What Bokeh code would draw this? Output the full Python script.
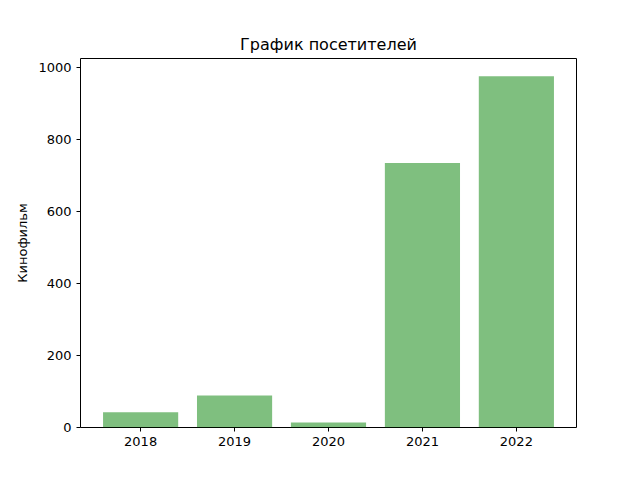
from bokeh.plotting import figure
from bokeh.models import ColumnDataSource, Range1d, FixedTicker
from bokeh.embed import file_html
from bokeh.resources import INLINE

years = ["2018", "2019", "2020", "2021", "2022"]
visitors = [42, 89, 14, 734, 975]

source = ColumnDataSource(data={'x': list(range(len(years))), 'top': visitors})

p = figure(width=632, height=472, output_backend="svg", toolbar_location=None,
           title="График посетителей",
           x_range=Range1d(-0.64, 4.64), y_range=Range1d(0, 1024),
           min_border_left=80, min_border_right=56, min_border_top=58, min_border_bottom=45)

p.vbar(x='x', top='top', width=0.8, source=source, fill_color="green", fill_alpha=0.5, line_color=None)

# matplotlib-like styling
p.title.align = "center"
p.title.text_font = "DejaVu Sans"
p.title.text_font_size = "16px"
p.title.text_font_style = "normal"
p.title.text_color = "black"
p.grid.grid_line_color = None
p.outline_line_color = "black"
p.outline_line_width = 1

p.xaxis.ticker = FixedTicker(ticks=list(range(len(years))))
p.xaxis.major_label_overrides = {i: y for i, y in enumerate(years)}
p.yaxis.ticker = FixedTicker(ticks=[0, 200, 400, 600, 800, 1000])
p.yaxis.axis_label = "Кинофильм"

for ax in (p.xaxis, p.yaxis):
    ax.major_label_text_font = "DejaVu Sans"
    ax.major_label_text_font_size = "13px"
    ax.major_label_text_color = "black"
    ax.axis_label_text_font = "DejaVu Sans"
    ax.axis_label_text_font_size = "13px"
    ax.axis_label_text_font_style = "normal"
    ax.axis_label_text_color = "black"
    ax.minor_tick_line_color = None
    ax.major_tick_line_color = "black"
    ax.major_tick_out = 4
    ax.major_tick_in = 0
    ax.axis_line_color = None

open("out.html", "w").write(file_html(p, INLINE))
